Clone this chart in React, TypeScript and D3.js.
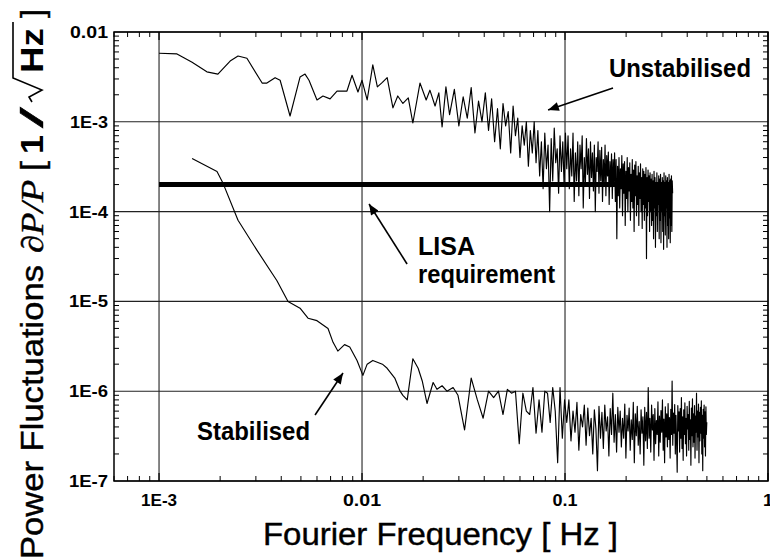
import React from 'react';
import * as d3 from 'd3';

const W = 770;
const H = 560;

// ---------- axis ticks ----------
const xTickValues = [1e-3, 1e-2, 1e-1, 1];
const xTickLabels = ['1E-3', '0.01', '0.1', '1'];
const xTickLabelWidths = [36, 38, 25, 10];
const yTickValues = [1e-2, 1e-3, 1e-4, 1e-5, 1e-6, 1e-7];
const yTickLabels = ['0.01', '1E-3', '1E-4', '1E-5', '1E-6', '1E-7'];
const yTickLabelWidths = [38, 38, 39, 39, 39, 39];

// ---------- Unstabilised: resolved low-frequency points ----------
const unstabFreq = [
  1e-3, 1.226e-3, 1.455e-3, 1.72e-3, 1.95e-3, 2.24e-3, 2.45e-3, 2.71e-3, 3.22e-3, 3.4e-3,
  3.73e-3, 3.95e-3, 4.42e-3, 4.95e-3, 5.24e-3, 5.48e-3, 6.0e-3, 6.42e-3, 6.96e-3, 7.53e-3,
  8.43e-3, 8.93e-3, 9.55e-3, 1.0e-2, 1.06e-2, 1.13e-2, 1.19e-2, 1.26e-2, 1.33e-2, 1.42e-2,
  1.5e-2, 1.59e-2, 1.69e-2, 1.78e-2, 1.93e-2, 2.07e-2, 2.16e-2, 2.29e-2, 2.39e-2, 2.48e-2,
  2.59e-2,
];
const unstabValue = [
  5.8e-3, 5.7e-3, 4.6e-3, 3.6e-3, 3.4e-3, 4.75e-3, 5.4e-3, 5.1e-3, 2.7e-3, 2.7e-3,
  3.1e-3, 2.9e-3, 1.16e-3, 3.15e-3, 3.4e-3, 2.9e-3, 1.75e-3, 1.94e-3, 1.8e-3, 2.2e-3,
  2.2e-3, 3.3e-3, 2.15e-3, 2.9e-3, 1.75e-3, 4.3e-3, 2.45e-3, 2.75e-3, 3.1e-3, 1.43e-3,
  1.94e-3, 1.6e-3, 1.85e-3, 9.7e-4, 2.7e-3, 1.75e-3, 2.25e-3, 1.5e-3, 2.1e-3, 8.75e-4,
  2.45e-3,
];
// Unstabilised: dense FFT bins (linear frequency grid)
const unstabBinStart = 0.027;
const unstabBinStep = 0.0015;
const unstabBins = [
  1.2e-3, 2.3e-3, 9e-4, 1.9e-3, 1.1e-3, 2.4e-3, 7.5e-4, 1.7e-3, 1.0e-3, 2.1e-3, 8e-4,
  1.8e-3, 6e-4, 1.4e-3, 5e-4, 1.6e-3, 9e-4, 1.3e-3, 4.5e-4, 1.5e-3, 7e-4,
  1.1e-3, 4e-4, 9e-4, 5.5e-4, 1.0e-3, 3.2e-4, 8e-4, 4.5e-4, 1.0e-3, 3.5e-4,
  8e-4, 2.5e-4, 6e-4, 1.8e-4, 7.5e-4, 3e-4, 5.5e-4, 1.0e-4, 6.5e-4, 2.2e-4,
  8.5e-4, 3.5e-4, 5e-4, 1.6e-4, 7e-4, 2.8e-4, 6e-4, 1.9e-4, 7.5e-4, 3e-4,
  7e-4, 1.8e-4, 5e-4, 2.5e-4, 7.5e-4, 1.3e-4, 4.5e-4, 2.2e-4, 6e-4, 1.5e-4,
  5.5e-4, 3e-4, 7e-4, 1.1e-4, 4e-4, 2e-4, 6.5e-4, 2.6e-4, 5e-4, 1.4e-4,
  6e-4, 2.4e-4, 4.5e-4, 1.7e-4, 5.5e-4, 1.0e-4, 4e-4, 2.8e-4, 6e-4, 1.6e-4,
  4.8e-4, 2.2e-4, 5.2e-4, 1.3e-4, 3.8e-4, 2e-4, 5.5e-4, 1.5e-4, 4.2e-4, 2.5e-4,
  4.6e-4, 1.2e-4, 3.6e-4, 1.9e-4, 4.4e-4, 1.4e-4, 3.8e-4, 2.1e-4, 4.5e-4, 1.3e-4,
  3.8e-4, 5e-5, 3.2e-4, 1.5e-4, 4e-4, 1.1e-4, 3e-4, 1.8e-4, 4.2e-4, 9e-5,
  3.4e-4, 1.6e-4, 3.6e-4, 7e-5, 2.8e-4, 1.4e-4, 4e-4, 1.0e-4, 3.1e-4, 1.7e-4,
  3.5e-4, 8e-5, 2.6e-4, 1.3e-4, 3.8e-4, 1.1e-4, 2.9e-4, 6e-5, 3.3e-4, 1.5e-4,
  3.6e-4, 9e-5, 2.5e-4, 1.2e-4, 3.2e-4, 7e-5, 2.7e-4, 1.4e-4, 3.4e-4, 1.0e-4,
  2.4e-4, 6.5e-5, 3e-4, 1.2e-4, 2.8e-4, 8e-5, 2.6e-4, 1.1e-4, 3.1e-4, 3e-5,
  2.4e-4, 9e-5, 2.9e-4, 1.3e-4, 2.5e-4, 6e-5, 2.7e-4, 1.0e-4, 2.3e-4, 7e-5,
  2.6e-4, 8e-5, 2.2e-4, 5e-5, 2.8e-4, 1.1e-4, 2.4e-4, 4e-5, 2.1e-4, 9e-5,
  2.7e-4, 6e-5, 2e-4, 1.2e-4, 2.5e-4, 5e-5, 2.3e-4, 8e-5, 2.6e-4, 4.5e-5,
  2.1e-4, 1.0e-4, 2.4e-4, 6e-5, 2.2e-4, 3.8e-5, 2.7e-4, 9e-5, 2e-4, 5.5e-5,
  2.5e-4, 1.1e-4, 2.2e-4, 4e-5, 2.4e-4, 7e-5, 2.1e-4, 5e-5, 2.6e-4, 8.5e-5,
  2.2e-4, 4.5e-5, 2.3e-4, 7e-5, 2.5e-4, 6e-5, 2.2e-4, 1.6e-4,
];

// ---------- Stabilised: resolved low-frequency points ----------
const stabFreq = [
  1.455e-3, 1.93e-3, 2.07e-3, 2.45e-3, 3.04e-3, 3.81e-3, 4.32e-3, 4.95e-3, 5.42e-3, 6.0e-3,
  6.8e-3, 7.2e-3, 7.6e-3, 8.2e-3, 8.7e-3, 9.45e-3, 1.01e-2, 1.06e-2, 1.13e-2, 1.26e-2,
  1.33e-2, 1.45e-2, 1.54e-2, 1.59e-2, 1.67e-2, 1.78e-2, 1.89e-2, 1.98e-2, 2.09e-2, 2.24e-2,
  2.34e-2, 2.48e-2, 2.62e-2, 2.81e-2, 2.97e-2,
];
const stabValue = [
  3.9e-4, 2.8e-4, 2.05e-4, 8e-5, 3.7e-5, 1.7e-5, 1.0e-5, 8.4e-6, 6.5e-6, 6.1e-6,
  5e-6, 3.5e-6, 2.8e-6, 3.3e-6, 3.1e-6, 2.2e-6, 1.5e-6, 2e-6, 2.2e-6, 2e-6,
  1.8e-6, 1.4e-6, 1e-6, 9e-7, 8e-7, 2.3e-6, 1.8e-6, 1.3e-6, 7.3e-7, 1.25e-6,
  1.05e-6, 1.15e-6, 1e-6, 1.1e-6, 9e-7,
];
// Stabilised: dense FFT bins (linear frequency grid)
const stabBinStart = 0.032;
const stabBinStep = 0.0025;
const stabBins = [
  3.7e-7, 1.4e-6, 8e-7, 5e-7, 1.0e-6, 8.5e-7, 1.0e-6,
  5.5e-7, 1.05e-6, 9.5e-7, 1.0e-6, 2.6e-7, 9.5e-7, 6e-7, 5.5e-7, 1.1e-6, 3.4e-7, 8e-7, 3.5e-7,
  1.0e-6, 9.5e-7, 4.5e-7, 1.1e-6, 6e-7, 1.6e-7, 1.1e-6, 3e-7, 8e-7, 4.5e-7,
  8e-7, 2.8e-7, 6e-7, 3.5e-7, 7.5e-7, 2.2e-7, 5.5e-7, 4e-7, 7e-7, 2.5e-7, 6.5e-7,
  3.2e-7, 5e-7, 2e-7, 6.2e-7, 3.8e-7, 1.3e-7, 6.8e-7, 3e-7, 5.8e-7, 2.3e-7, 7e-7,
  3.6e-7, 5.2e-7, 1.9e-7, 6.4e-7, 3.3e-7, 9.5e-7, 2.7e-7, 5.5e-7, 2.1e-7, 6.6e-7, 3.5e-7,
  6e-7, 2.4e-7, 5e-7, 3e-7, 7.2e-7, 1.8e-7, 5.4e-7, 3.6e-7, 6.5e-7, 2.2e-7,
  4.8e-7, 2.9e-7, 7.5e-7, 1.6e-7, 5.6e-7, 3.2e-7, 6.8e-7, 2.5e-7, 4.6e-7, 2e-7,
  6.2e-7, 3.4e-7, 5.2e-7, 1.5e-7, 6.6e-7, 2.8e-7, 5.8e-7, 2.3e-7, 1.1e-6, 3e-7,
  5e-7, 2.1e-7, 7e-7, 3.7e-7, 5.5e-7, 1.7e-7, 6.4e-7, 2.6e-7, 4.7e-7, 3.3e-7,
  7.6e-7, 1.9e-7, 5.3e-7, 2.7e-7, 6.1e-7, 3.5e-7, 8e-7, 2.2e-7, 4.9e-7, 1.6e-7,
  6.7e-7, 3.1e-7, 5.6e-7, 2.4e-7, 7.3e-7, 2.9e-7, 5.1e-7, 1.8e-7, 6.3e-7, 3.3e-7,
  1.3e-6, 2.5e-7, 5.7e-7, 3.4e-7, 7.1e-7, 2e-7, 5.4e-7, 2.8e-7, 1.25e-7, 6.9e-7,
  3.6e-7, 5.9e-7, 2.1e-7, 6.4e-7, 3e-7, 8.5e-7, 2.3e-7, 5.2e-7, 1.7e-7, 6.2e-7,
  3.3e-7, 7.4e-7, 2.6e-7, 5e-7, 1.9e-7, 6.8e-7, 3.8e-7, 5.5e-7, 2.2e-7, 7.7e-7,
  2.9e-7, 4.8e-7, 1.5e-7, 6.5e-7, 3.2e-7, 8.2e-7, 2.4e-7, 5.6e-7, 2.7e-7, 6.9e-7,
  1.8e-7, 5.3e-7, 3.5e-7, 9.5e-7, 2.2e-7, 6e-7, 3.1e-7, 7.2e-7, 1.6e-7, 5.8e-7,
  2.8e-7, 6.6e-7, 3.4e-7, 7.8e-7, 2e-7, 5.4e-7, 1.3e-7, 6.3e-7, 3e-7, 7e-7,
  2.4e-7, 5.9e-7, 1.9e-7, 6.7e-7, 3.3e-7, 4.5e-7,
];

// ---------- LISA requirement ----------
const lisaFreq = [1e-3, 0.335];
const lisaLevel = 2e-4;

// ---------- annotations (data coordinates) ----------
const annotationTexts = ['Unstabilised', 'LISA', 'requirement', 'Stabilised'];
const annotationFreq = [0.1647, 0.01888, 0.01888, 1.539e-3];
const annotationValue = [3.16e-3, 3.29e-5, 1.6e-5, 2.86e-7];
const annotationWidths = [142, 57, 137, 113];
const arrowTail = [[0.1724, 2.38e-3], [0.01667, 2.61e-5], [5.87e-3, 5.43e-7]];
const arrowTip = [[0.0825, 1.353e-3], [0.01083, 1.215e-4], [8.06e-3, 1.594e-6]];

const SANS = '"Liberation Sans", Arial, Helvetica, sans-serif';

export default function App() {
  const x = d3.scaleLog().domain([6e-4, 1]).range([114, 768]);
  const y = d3.scaleLog().domain([1e-7, 1e-2]).range([481, 32]);

  const line = d3
    .line<[number, number]>()
    .x((d) => x(d[0]))
    .y((d) => y(d[1]));

  const unstabPts: [number, number][] = [
    ...unstabFreq.map((f, i) => [f, unstabValue[i]] as [number, number]),
    ...unstabBins.map((v, i) => [unstabBinStart + i * unstabBinStep, v] as [number, number]),
  ];
  const stabPts: [number, number][] = [
    ...stabFreq.map((f, i) => [f, stabValue[i]] as [number, number]),
    ...stabBins.map((v, i) => [stabBinStart + i * stabBinStep, v] as [number, number]),
  ];

  const [x0, x1] = x.range();
  const [yb, yt] = y.range();

  const xMinor: number[] = [];
  for (let e = -4; e <= 0; e++) {
    for (let m = 2; m <= 9; m++) {
      const v = m * Math.pow(10, e);
      if (v > 6e-4 && v < 1) xMinor.push(v);
    }
  }
  const yMinor: number[] = [];
  for (let e = -7; e <= -3; e++) {
    for (let m = 2; m <= 9; m++) {
      yMinor.push(m * Math.pow(10, e));
    }
  }

  const minorLen = 5;
  const majorLen = 8;

  return (
    <svg
      width={W}
      height={H}
      style={{ position: 'absolute', left: 0, top: 0, background: '#fff' }}
      fontFamily={SANS}
    >
      <defs>
        <marker
          id="ah"
          viewBox="0 0 12 10"
          refX="12"
          refY="5"
          markerWidth="12"
          markerHeight="9"
          markerUnits="userSpaceOnUse"
          orient="auto"
        >
          <path d="M0,0 L12,5 L0,10 Z" fill="#000" />
        </marker>
      </defs>
      <rect x={0} y={0} width={W} height={H} fill="#fff" />

      {xTickValues.map((v, i) => (
        <line key={'gx' + i} x1={x(v)} x2={x(v)} y1={yt} y2={yb} stroke="#222" strokeWidth={1.1} />
      ))}
      {yTickValues.map((v, i) => (
        <line key={'gy' + i} x1={x0} x2={x1} y1={y(v)} y2={y(v)} stroke="#222" strokeWidth={1.1} />
      ))}

      {xMinor.map((v, i) => (
        <g key={'xm' + i}>
          <line x1={x(v)} x2={x(v)} y1={yb} y2={yb - minorLen} stroke="#000" strokeWidth={1} />
          <line x1={x(v)} x2={x(v)} y1={yt} y2={yt + minorLen} stroke="#000" strokeWidth={1} />
        </g>
      ))}
      {yMinor.map((v, i) => (
        <g key={'ym' + i}>
          <line x1={x0} x2={x0 + minorLen} y1={y(v)} y2={y(v)} stroke="#000" strokeWidth={1} />
          <line x1={x1} x2={x1 - minorLen} y1={y(v)} y2={y(v)} stroke="#000" strokeWidth={1} />
        </g>
      ))}
      {xTickValues.map((v, i) => (
        <g key={'xM' + i}>
          <line x1={x(v)} x2={x(v)} y1={yb} y2={yb - majorLen} stroke="#000" strokeWidth={1.2} />
          <line x1={x(v)} x2={x(v)} y1={yt} y2={yt + majorLen} stroke="#000" strokeWidth={1.2} />
        </g>
      ))}

      <rect x={x0} y={yt} width={x1 - x0} height={yb - yt} fill="none" stroke="#000" strokeWidth={1.5} />

      <line
        x1={x(lisaFreq[0])}
        x2={x(lisaFreq[1])}
        y1={y(lisaLevel)}
        y2={y(lisaLevel)}
        stroke="#000"
        strokeWidth={5}
      />

      <path d={line(unstabPts) || ''} fill="none" stroke="#000" strokeWidth={1.15} strokeLinejoin="round" />
      <path d={line(stabPts) || ''} fill="none" stroke="#000" strokeWidth={1.15} strokeLinejoin="round" />

      {xTickLabels.map((t, i) => (
        <text
          key={'xl' + i}
          x={x(xTickValues[i])}
          y={506}
          textAnchor="middle"
          fontSize={16}
          fontWeight="bold"
          textLength={xTickLabelWidths[i]}
          lengthAdjust="spacingAndGlyphs"
        >
          {t}
        </text>
      ))}
      {yTickLabels.map((t, i) => (
        <text
          key={'yl' + i}
          x={108}
          y={y(yTickValues[i]) + 6}
          textAnchor="end"
          fontSize={16}
          fontWeight="bold"
          textLength={yTickLabelWidths[i]}
          lengthAdjust="spacingAndGlyphs"
        >
          {t}
        </text>
      ))}

      <text x={263} y={545} fontSize={31} textLength={355} lengthAdjust="spacingAndGlyphs" stroke="#000" strokeWidth={0.4}>
        Fourier Frequency [ Hz ]
      </text>
      <g transform="translate(43,559) rotate(-90)" stroke="#000" strokeWidth={0.4}>
        <text x={0} y={0} fontSize={31} textLength={294} lengthAdjust="spacingAndGlyphs">
          Power Fluctuations
        </text>
        <text
          x={306}
          y={0}
          fontSize={31}
          fontStyle="italic"
          fontFamily={'"Liberation Serif", "Times New Roman", serif'}
          textLength={73}
          lengthAdjust="spacingAndGlyphs"
        >
          ∂P/P
        </text>
        <text x={388} y={0} fontSize={31} textLength={10} lengthAdjust="spacingAndGlyphs">
          [
        </text>
        <text x={405} y={0} fontSize={31} fontWeight="bold" textLength={19} lengthAdjust="spacingAndGlyphs" strokeWidth={0}>
          1
        </text>
        <text x={431} y={0} fontSize={31} textLength={21} lengthAdjust="spacingAndGlyphs">
          /
        </text>
        <path d="M457,-11 L462,-14 L469,-1 L481,-30 L537,-30" fill="none" stroke="#000" strokeWidth={1.6} />
        <text x={486} y={0} fontSize={31} fontWeight="bold" textLength={45} lengthAdjust="spacingAndGlyphs" strokeWidth={0}>
          Hz
        </text>
        <text x={541} y={0} fontSize={31} textLength={9} lengthAdjust="spacingAndGlyphs">
          ]
        </text>
      </g>

      {annotationTexts.map((t, i) => (
        <text
          key={'an' + i}
          x={x(annotationFreq[i])}
          y={y(annotationValue[i])}
          fontSize={25}
          fontWeight="bold"
          textLength={annotationWidths[i]}
          lengthAdjust="spacingAndGlyphs"
        >
          {t}
        </text>
      ))}
      {arrowTail.map((tail, i) => (
        <line
          key={'ar' + i}
          x1={x(tail[0])}
          y1={y(tail[1])}
          x2={x(arrowTip[i][0])}
          y2={y(arrowTip[i][1])}
          stroke="#000"
          strokeWidth={1.6}
          markerEnd="url(#ah)"
        />
      ))}
    </svg>
  );
}
